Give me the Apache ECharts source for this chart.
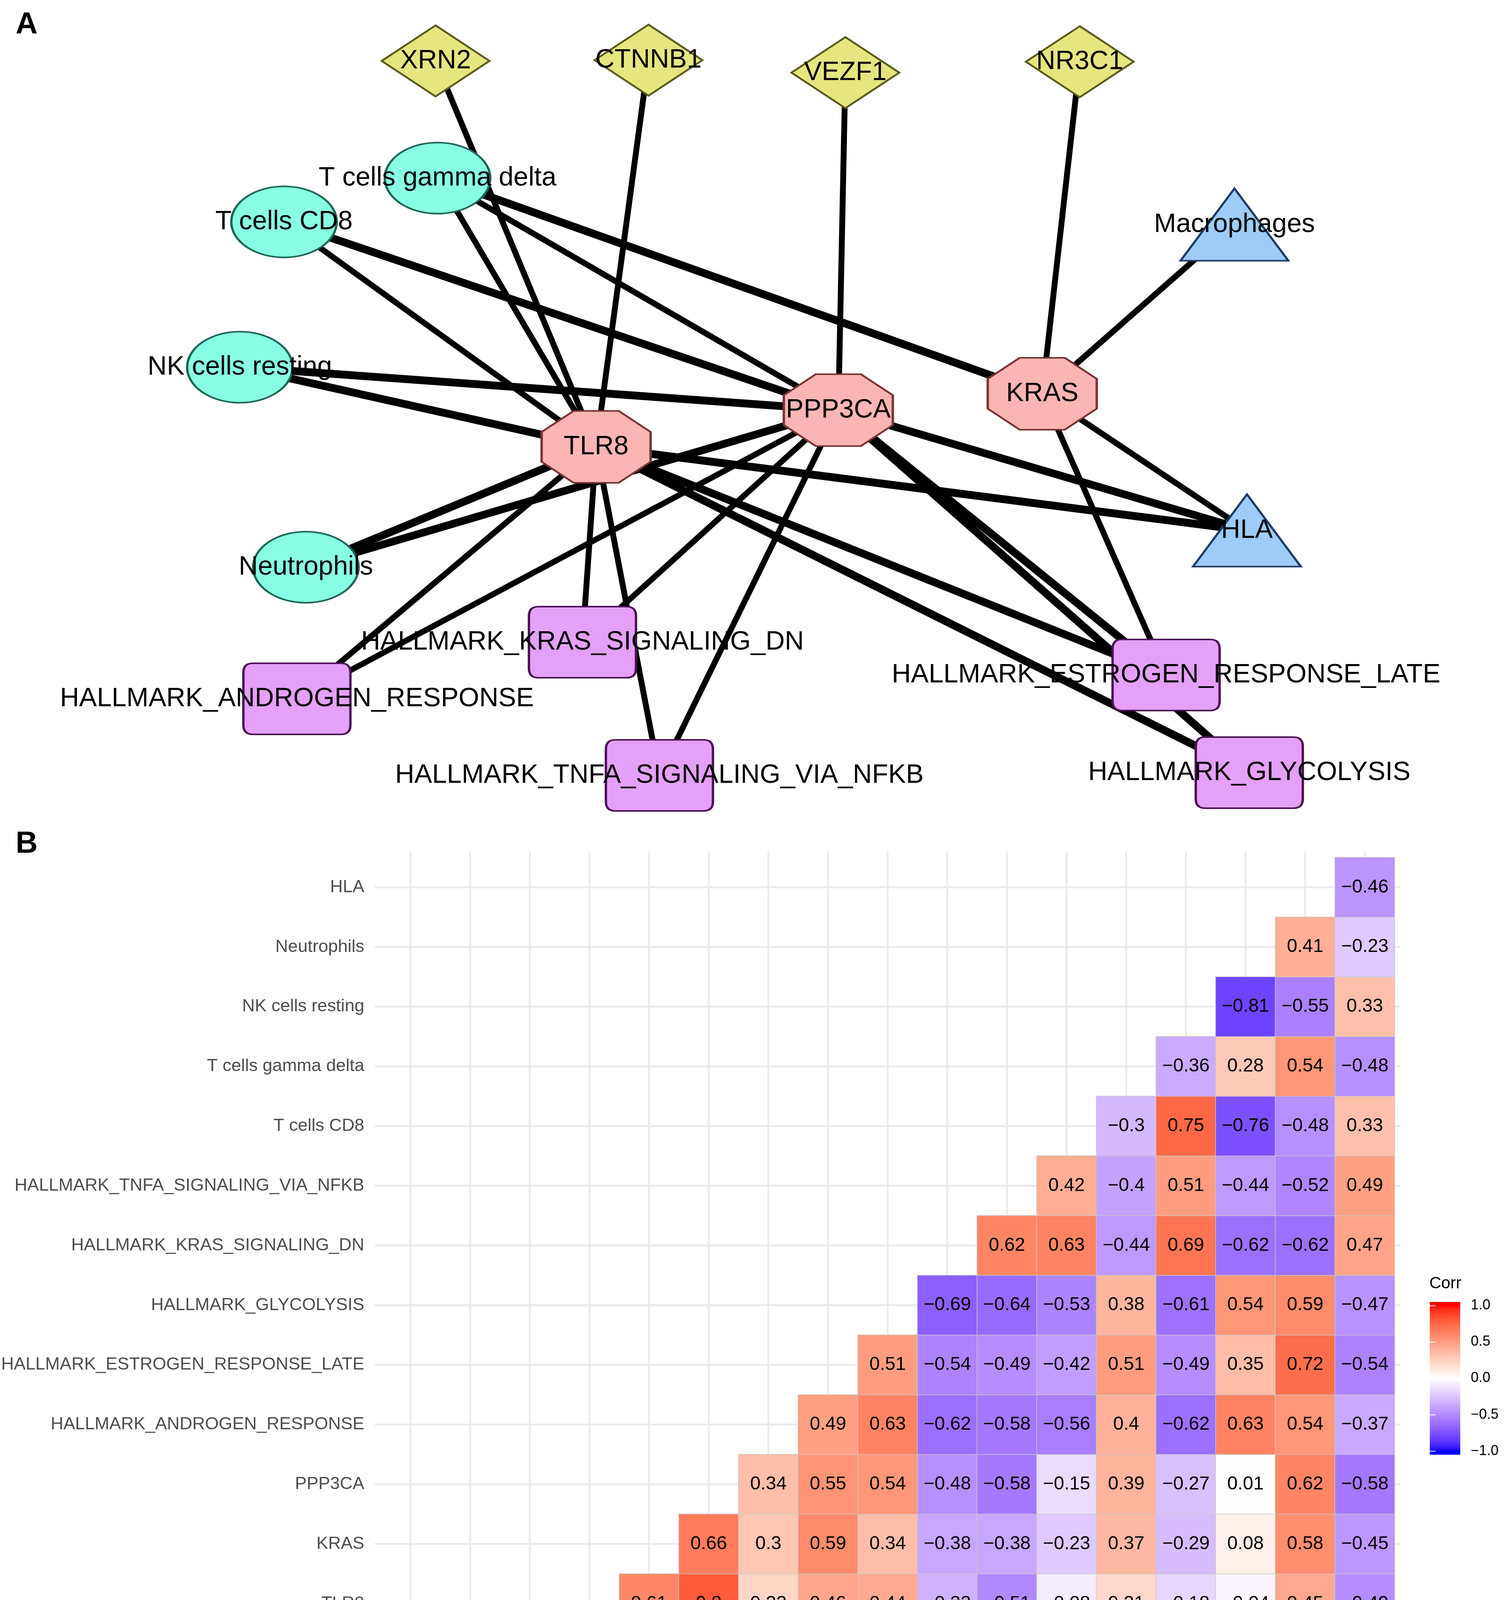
<!DOCTYPE html>
<html>
<head>
<meta charset="utf-8">
<script src="https://cdn.jsdelivr.net/npm/echarts@6/dist/echarts.min.js"></script>
<style>
html,body{margin:0;padding:0;background:#ffffff;}
#chart{width:3850px;height:5517px;}
</style>
</head>
<body>
<div id="chart"></div>
<script>
// ================= Panel A : network =================
const nodeNames = ['XRN2','CTNNB1','VEZF1','NR3C1','T cells gamma delta','T cells CD8','NK cells resting','Neutrophils',
  'Macrophages','HLA','TLR8','PPP3CA','KRAS','HALLMARK_KRAS_SIGNALING_DN','HALLMARK_ANDROGEN_RESPONSE',
  'HALLMARK_TNFA_SIGNALING_VIA_NFKB','HALLMARK_ESTROGEN_RESPONSE_LATE','HALLMARK_GLYCOLYSIS'];
const nodeTypes = ['tf','tf','tf','tf','cell','cell','cell','cell','tri','tri','hub','hub','hub',
  'hallmark','hallmark','hallmark','hallmark','hallmark'];
// layout coordinates of the network
const nodeX = [1115,1660,2164,2764,1120,727,614,783,3160,3192,1526,2146,2668,1491,760,1688,2985,3198];
const nodeY = [156,154,186,158,456,568,940,1452,575,1358,1144,1050,1008,1644,1789,1985,1728,1978];
const edges = [
  ['XRN2','TLR8'],['CTNNB1','TLR8'],['VEZF1','PPP3CA'],['NR3C1','KRAS'],['Macrophages','KRAS'],
  ['T cells gamma delta','TLR8'],['T cells gamma delta','PPP3CA'],['T cells gamma delta','KRAS'],
  ['T cells CD8','TLR8'],['T cells CD8','PPP3CA'],
  ['NK cells resting','TLR8'],['NK cells resting','PPP3CA'],
  ['Neutrophils','TLR8'],['Neutrophils','PPP3CA'],
  ['HALLMARK_ANDROGEN_RESPONSE','TLR8'],['HALLMARK_ANDROGEN_RESPONSE','PPP3CA'],
  ['HALLMARK_KRAS_SIGNALING_DN','TLR8'],['HALLMARK_KRAS_SIGNALING_DN','PPP3CA'],
  ['HALLMARK_TNFA_SIGNALING_VIA_NFKB','TLR8'],['HALLMARK_TNFA_SIGNALING_VIA_NFKB','PPP3CA'],
  ['HALLMARK_ESTROGEN_RESPONSE_LATE','TLR8'],['HALLMARK_ESTROGEN_RESPONSE_LATE','PPP3CA'],['HALLMARK_ESTROGEN_RESPONSE_LATE','KRAS'],
  ['HALLMARK_GLYCOLYSIS','TLR8'],['HALLMARK_GLYCOLYSIS','PPP3CA'],
  ['HLA','TLR8'],['HLA','PPP3CA'],['HLA','KRAS']
];

// ================= Panel B : correlation heatmap =================
const xCats = ['NR3C1','VEZF1','XRN2','TLR8','KRAS','PPP3CA','HALLMARK_ANDROGEN_RESPONSE','HALLMARK_ESTROGEN_RESPONSE_LATE',
  'HALLMARK_GLYCOLYSIS','HALLMARK_KRAS_SIGNALING_DN','HALLMARK_TNFA_SIGNALING_VIA_NFKB','T cells CD8','T cells gamma delta',
  'NK cells resting','Neutrophils','HLA','Macrophages'];
const yCats = ['CTNNB1','NR3C1','VEZF1','XRN2','TLR8','KRAS','PPP3CA','HALLMARK_ANDROGEN_RESPONSE','HALLMARK_ESTROGEN_RESPONSE_LATE',
  'HALLMARK_GLYCOLYSIS','HALLMARK_KRAS_SIGNALING_DN','HALLMARK_TNFA_SIGNALING_VIA_NFKB','T cells CD8','T cells gamma delta',
  'NK cells resting','Neutrophils','HLA'];
// each row starts at the column with the same index as the row
const rowCTNNB1 = [-0.01,0.25,0.4,0.27,0.25,0.35,0.08,0.24,0.17,-0.22,-0.18,-0.1,0.19,-0.14,0.01,0.16,-0.33];
const rowNR3C1 = [0.16,-0.01,0.12,0.16,0.13,0.05,0.11,0.07,-0.05,-0.07,-0.03,-0.02,-0.03,-0.02,0.08,-0.04];
const rowVEZF1 = [0.12,0.48,0.48,0.53,0.3,0.42,0.44,-0.38,-0.36,-0.23,0.27,-0.27,0.15,0.44,-0.42];
const rowXRN2 = [0.21,0.16,0.25,0.06,0.09,0.15,-0.16,-0.13,0.01,0.16,-0.06,0.03,0.12,-0.27];
const rowTLR8 = [0.61,0.8,0.22,0.46,0.44,-0.33,-0.51,-0.08,0.21,-0.18,-0.04,0.45,-0.49];
const rowKRAS = [0.66,0.3,0.59,0.34,-0.38,-0.38,-0.23,0.37,-0.29,0.08,0.58,-0.45];
const rowPPP3CA = [0.34,0.55,0.54,-0.48,-0.58,-0.15,0.39,-0.27,0.01,0.62,-0.58];
const rowANDROGEN = [0.49,0.63,-0.62,-0.58,-0.56,0.4,-0.62,0.63,0.54,-0.37];
const rowESTROGEN = [0.51,-0.54,-0.49,-0.42,0.51,-0.49,0.35,0.72,-0.54];
const rowGLYCOLYSIS = [-0.69,-0.64,-0.53,0.38,-0.61,0.54,0.59,-0.47];
const rowKRASDN = [0.62,0.63,-0.44,0.69,-0.62,-0.62,0.47];
const rowTNFA = [0.42,-0.4,0.51,-0.44,-0.52,0.49];
const rowCD8 = [-0.3,0.75,-0.76,-0.48,0.33];
const rowGammaDelta = [-0.36,0.28,0.54,-0.48];
const rowNK = [-0.81,-0.55,0.33];
const rowNeutrophils = [0.41,-0.23];
const rowHLA = [-0.46];
const legendTicks = [-1, -0.5, 0, 0.5, 1];

// ================= styles =================
const FONT = "'Liberation Sans', Arial, Helvetica, sans-serif";
const nodeStyle = {
  tf:       {symbol:'diamond', size:[276,182], color:'#E6E680', border:'#5A5A1E'},
  cell:     {symbol:'path://M0,50A50,50,0,1,1,100,50A50,50,0,1,1,0,50Z', size:[270,182], color:'#88FFE4', border:'#1E6656'},
  hub:      {symbol:'path://M29.3,0L70.7,0L100,29.3L100,70.7L70.7,100L29.3,100L0,70.7L0,29.3Z', size:[279,184], color:'#FCB5B5', border:'#7A3434'},
  hallmark: {symbol:'path://M24,0L250,0Q274,0,274,24L274,158Q274,182,250,182L24,182Q0,182,0,158L0,24Q0,0,24,0Z', size:[274,182], color:'#E5A0FA', border:'#4A1456'},
  tri:      {symbol:'triangle', size:[276,185], color:'#9ECCF9', border:'#1E3C66'}
};
const thickEdges = [7,9,10,11,12,13,20,21,23,24,25,26];

// ---- ggplot-like Lab gradient (blue - white - red) ----
function toLin(c){c/=255;return c<=0.04045?c/12.92:Math.pow((c+0.055)/1.055,2.4);}
function toSrgb(l){const c=l<=0.0031308?12.92*l:1.055*Math.pow(l,1/2.4)-0.055;return Math.round(Math.min(1,Math.max(0,c))*255);}
const WX=0.95047,WY=1,WZ=1.08883;
function rgb2lab(rgb){
  const R=toLin(rgb[0]),G=toLin(rgb[1]),B=toLin(rgb[2]);
  const X=0.4124564*R+0.3575761*G+0.1804375*B,Y=0.2126729*R+0.7151522*G+0.0721750*B,Z=0.0193339*R+0.1191920*G+0.9503041*B;
  const f=t=>t>216/24389?Math.cbrt(t):(24389/27*t+16)/116;
  const fx=f(X/WX),fy=f(Y/WY),fz=f(Z/WZ);
  return [116*fy-16,500*(fx-fy),200*(fy-fz)];
}
function lab2rgb(lab){
  const fy=(lab[0]+16)/116,fx=fy+lab[1]/500,fz=fy-lab[2]/200;
  const finv=t=>t*t*t>216/24389?t*t*t:(116*t-16)/(24389/27);
  const X=WX*finv(fx),Y=WY*finv(fy),Z=WZ*finv(fz);
  const R=3.2404542*X-1.5371385*Y-0.4985314*Z,G=-0.9692660*X+1.8760108*Y+0.0415560*Z,B=0.0556434*X-0.2040259*Y+1.0572252*Z;
  return 'rgb('+toSrgb(R)+','+toSrgb(G)+','+toSrgb(B)+')';
}
const LAB_W=rgb2lab([255,255,255]),LAB_B=rgb2lab([0,0,255]),LAB_R=rgb2lab([255,0,0]);
function corrColor(v){
  v=Math.max(-1,Math.min(1,v));
  const end=v<0?LAB_B:LAB_R,t=Math.abs(v);
  return lab2rgb([0,1,2].map(k=>LAB_W[k]+t*(end[k]-LAB_W[k])));
}
const rampColors=[];for(let k=0;k<=80;k++){rampColors.push(corrColor(-1+k*2/80));}

function fmt(v){return (v<0?'\u2212':'')+String(Math.abs(v));}

// ---- build data ----
const rows=[rowCTNNB1,rowNR3C1,rowVEZF1,rowXRN2,rowTLR8,rowKRAS,rowPPP3CA,rowANDROGEN,rowESTROGEN,
  rowGLYCOLYSIS,rowKRASDN,rowTNFA,rowCD8,rowGammaDelta,rowNK,rowNeutrophils,rowHLA];
const heatData=[];
rows.forEach((vals,r)=>vals.forEach((v,k)=>heatData.push([r+k,r,v])));

const graphNodes=nodeNames.map((n,i)=>{
  const s=nodeStyle[nodeTypes[i]];
  return {name:n,value:[nodeX[i],nodeY[i]],symbol:s.symbol,symbolSize:s.size,
    itemStyle:{color:s.color,borderColor:s.border,borderWidth:5}};
});
const graphLinks=edges.map((e,i)=>({source:nodeNames.indexOf(e[0]),target:nodeNames.indexOf(e[1]),
  lineStyle:{width:thickEdges.indexOf(i)>=0?20:15}}));

const chart=echarts.init(document.getElementById('chart'),null,{renderer:'canvas'});
chart.setOption({
  animation:false,
  backgroundColor:'#ffffff',
  textStyle:{fontFamily:FONT},
  title:[
    {text:'A',left:40,top:25,padding:0,textStyle:{fontSize:78,fontWeight:'bold',color:'#000',fontFamily:FONT}},
    {text:'B',left:40,top:2122,padding:0,textStyle:{fontSize:78,fontWeight:'bold',color:'#000',fontFamily:FONT}},
    {text:'Corr',left:3659,top:3265,padding:0,textStyle:{fontSize:42,fontWeight:'normal',color:'#000',fontFamily:FONT}}
  ],
  grid:[
    {left:0,top:0,width:3850,height:2100},
    {left:973,top:2195,width:2597,height:2598},
    {left:3660,top:3333,width:78,height:391}
  ],
  xAxis:[
    {type:'value',gridIndex:0,min:0,max:3850,show:false},
    {type:'category',gridIndex:1,data:xCats,axisLine:{show:false},axisTick:{show:false},splitLine:{show:false},
      axisLabel:{interval:0,rotate:45,margin:34,fontSize:45,color:'#4D4D4D',fontFamily:FONT}},
    {type:'value',gridIndex:2,min:0,max:1,show:false}
  ],
  yAxis:[
    {type:'value',gridIndex:0,min:0,max:2100,inverse:true,show:false},
    {type:'category',gridIndex:1,data:yCats,axisLine:{show:false},axisTick:{show:false},splitLine:{show:false},
      axisLabel:{interval:0,margin:42,fontSize:45,color:'#4D4D4D',fontFamily:FONT}},
    {type:'value',gridIndex:2,min:-1.05,max:1.05,position:'right',z:10,axisLine:{show:false},splitLine:{show:false},
      axisTick:{show:true,inside:true,length:15,customValues:legendTicks,lineStyle:{color:'#ffffff',width:2}},
      axisLabel:{show:true,customValues:legendTicks,margin:27,fontSize:36,color:'#000',fontFamily:FONT,
        formatter:v=>(v<0?'\u2212':'')+Math.abs(v).toFixed(1)}},
    {type:'value',gridIndex:2,min:-1.05,max:1.05,position:'left',z:10,axisLine:{show:false},splitLine:{show:false},
      axisTick:{show:true,inside:true,length:15,customValues:legendTicks,lineStyle:{color:'#ffffff',width:2}},
      axisLabel:{show:false}}
  ],
  visualMap:[{type:'continuous',show:false,min:-1,max:1,dimension:2,seriesIndex:2,inRange:{color:rampColors}}],
  series:[
    {
      type:'graph',coordinateSystem:'cartesian2d',xAxisIndex:0,yAxisIndex:0,layout:'none',silent:true,
      data:graphNodes,links:graphLinks,
      lineStyle:{color:'#000',opacity:1,curveness:0},
      label:{show:true,position:'inside',fontSize:68,color:'#000',fontFamily:FONT},
      emphasis:{disabled:true}
    },
    {
      type:'custom',xAxisIndex:1,yAxisIndex:1,silent:true,z:1,
      data:xCats.map((c,i)=>[i,i]),
      renderItem:function(params,api){
        const cs=params.coordSys;
        const p=api.coord([api.value(0),api.value(1)]);
        const ext=api.size([1,1])[0]*0.1;
        const st={stroke:'#EBEBEB',lineWidth:5};
        return {type:'group',children:[
          {type:'line',shape:{x1:p[0],y1:cs.y-ext,x2:p[0],y2:cs.y+cs.height+ext},style:st},
          {type:'line',shape:{x1:cs.x-ext,y1:p[1],x2:cs.x+cs.width+ext,y2:p[1]},style:st}
        ]};
      }
    },
    {
      type:'heatmap',xAxisIndex:1,yAxisIndex:1,z:3,data:heatData,silent:true,
      itemStyle:{borderColor:'#C8C8C8',borderWidth:1.5},
      label:{show:true,fontSize:48,color:'#000',fontFamily:FONT,formatter:p=>fmt(p.value[2])},
      emphasis:{disabled:true}
    },
    {
      type:'custom',xAxisIndex:2,yAxisIndex:2,silent:true,z:2,
      data:[[0.5,0]],
      renderItem:function(params,api){
        const cs=params.coordSys;
        const stops=[];
        for(let k=0;k<=84;k++){const o=k/84;stops.push({offset:o,color:corrColor(1.05-2.1*o)});}
        return {type:'rect',shape:{x:cs.x,y:cs.y,width:cs.width,height:cs.height},
          style:{fill:new echarts.graphic.LinearGradient(0,0,0,1,stops)}};
      }
    }
  ]
});
</script>
</body>
</html>
